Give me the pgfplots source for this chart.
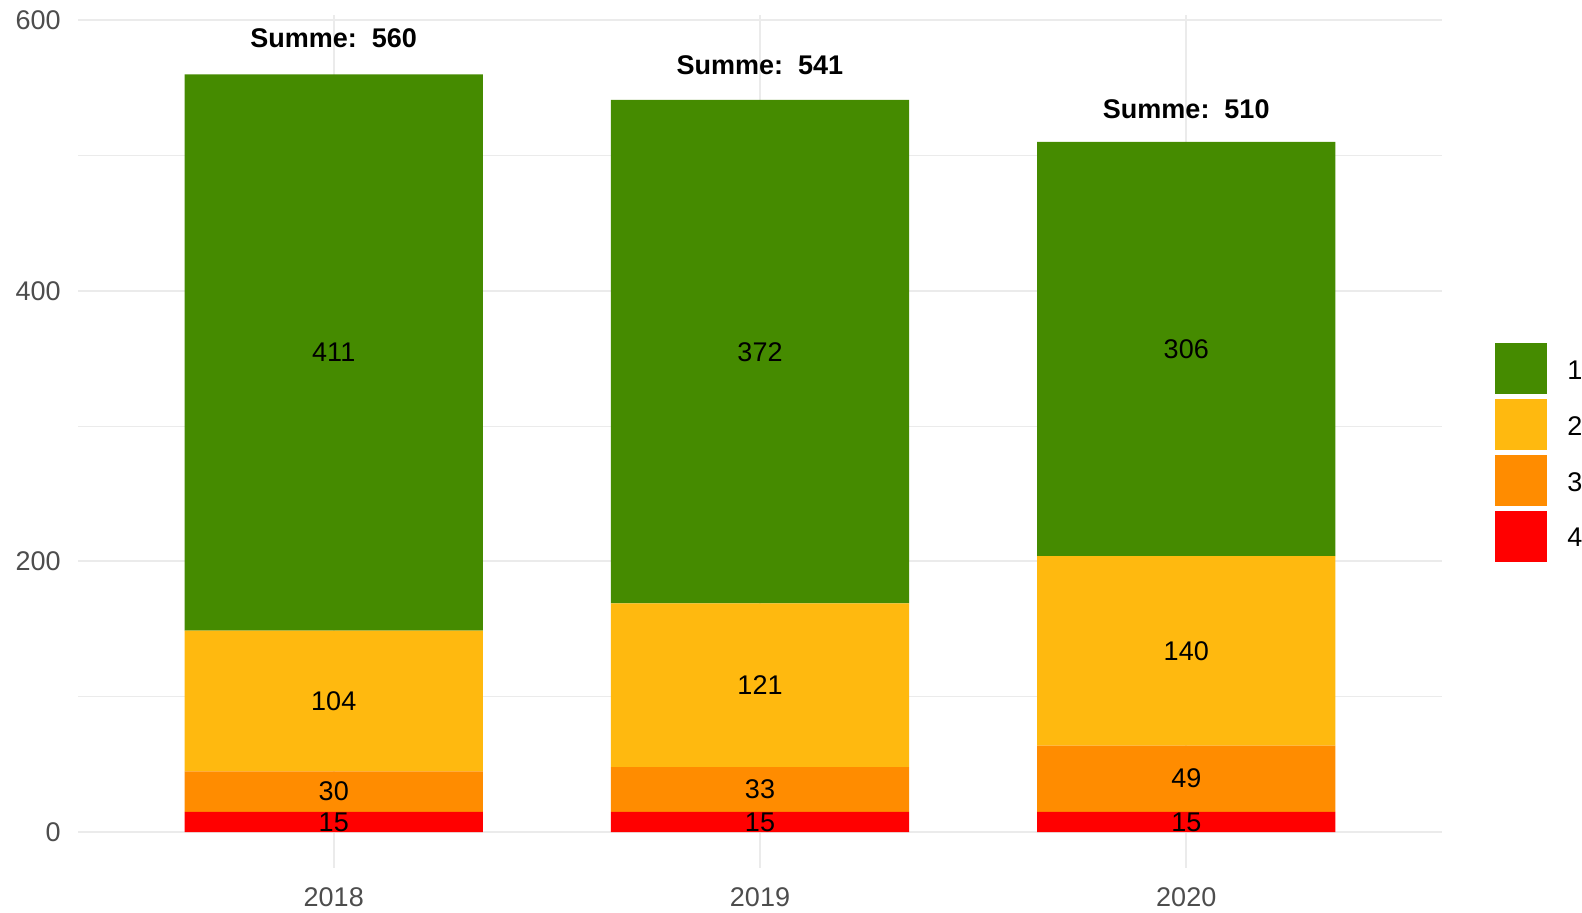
\documentclass[border=0pt]{standalone}
\usepackage{fontspec}
\setmainfont{Liberation Sans}
\usepackage{pgfplots}
\pgfplotsset{compat=1.18}

\definecolor{c1}{HTML}{458B00}
\definecolor{c2}{HTML}{FFB90F}
\definecolor{c3}{HTML}{FF8C00}
\definecolor{c4}{HTML}{FF0000}
\definecolor{gridc}{HTML}{EBEBEB}
\definecolor{tickc}{HTML}{4D4D4D}

\newcommand{\lblfont}{\fontsize{13.5}{16}\selectfont}

\pgfplotsset{
  panel/.style={
    width=682pt, height=426.3pt, scale only axis,
    xmin=-0.6, xmax=2.6, ymin=-26.2, ymax=603.8,
    enlargelimits=false, clip=false,
  },
}

\begin{document}
\begin{tikzpicture}
\begin{axis}[
  panel,
  at={(0pt,0pt)}, anchor=south west,
  ybar stacked, bar width=0.7,
  axis line style={draw=none},
  major tick length=0pt, minor tick length=0pt,
  xtick={0,1,2}, xticklabels={2018,2019,2020},
  ytick={0,200,400,600}, yticklabels={0,200,400,600},
  minor ytick={100,300,500},
  xmajorgrids, ymajorgrids, yminorgrids,
  major grid style={draw=gridc, line width=1pt},
  minor grid style={draw=gridc, line width=0.5pt},
  xticklabel style={anchor=north, inner sep=0pt, yshift=-9.6pt, font=\lblfont, text=tickc},
  yticklabel style={anchor=east, inner sep=0pt, xshift=-8.5pt, font=\lblfont, text=tickc},
  every axis plot post/.append style={
    legend image code/.code={\fill[##1] (0pt,-12.75pt) rectangle (26pt,12.75pt); \path (36pt,0pt);}},
  reverse legend,
  legend cell align=left,
  legend style={at={(1.0389,0.487)}, anchor=west, draw=none, fill=none,
    inner sep=0pt, row sep=2.4pt, font=\lblfont,
    nodes={inner sep=0pt, yshift=-1.5pt}},
]
\addplot[fill=c4, draw=none] coordinates {(0,15) (1,15) (2,15)};
\addlegendentry{4}
\addplot[fill=c3, draw=none] coordinates {(0,30) (1,33) (2,49)};
\addlegendentry{3}
\addplot[fill=c2, draw=none] coordinates {(0,104) (1,121) (2,140)};
\addlegendentry{2}
\addplot[fill=c1, draw=none] coordinates {(0,411) (1,372) (2,306)};
\addlegendentry{1}
\end{axis}

\begin{axis}[panel, at={(0pt,0pt)}, anchor=south west, hide axis]
\addplot[only marks, mark=none, point meta=explicit symbolic,
  nodes near coords,
  every node near coord/.append style={anchor=center, inner sep=0pt, font=\lblfont, text=black}]
  table[meta=lab] {
x y lab
0 7.5 15
0 30 30
0 97 104
0 354.5 411
1 7.5 15
1 31.5 33
1 108.5 121
1 355 372
2 7.5 15
2 39.5 49
2 134 140
2 357 306
};
\addplot[only marks, mark=none, point meta=explicit symbolic,
  nodes near coords={Summe:\ \ \pgfplotspointmeta},
  every node near coord/.append style={anchor=center, inner sep=0pt, font=\lblfont\bfseries, text=black}]
  table[meta=lab] {
x y lab
0 587 560
1 567 541
2 534 510
};
\end{axis}

\pgfresetboundingbox
\path[use as bounding box] (-39pt,-22.5pt) rectangle (752pt,433.8pt);
\end{tikzpicture}
\end{document}
